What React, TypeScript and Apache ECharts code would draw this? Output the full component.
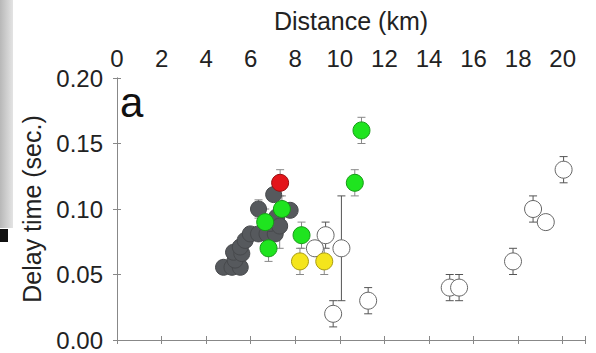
import React, { useEffect, useRef } from "react";
import * as echarts from "echarts";

// [distance km, delay s, error s]
const grayPoints: number[][] = [
  [4.78, 0.0555, 0], [5.16, 0.0555, 0], [5.53, 0.0555, 0],
  [5.3, 0.061, 0], [5.23, 0.067, 0], [5.6, 0.066, 0],
  [5.53, 0.071, 0], [5.75, 0.076, 0],
  [5.98, 0.081, 0], [6.35, 0.081, 0], [6.73, 0.081, 0], [7.1, 0.081, 0],
  [6.88, 0.089, 0], [7.17, 0.094, 0], [7.3, 0.087, 0.017],
  [6.35, 0.1, 0.007], [7.77, 0.099, 0], [7.03, 0.111, 0],
];
const whitePoints: number[][] = [
  [9.36, 0.08, 0.01], [8.88, 0.07, 0], [10.07, 0.07, 0.04],
  [9.7, 0.02, 0.01], [11.27, 0.03, 0.01], [14.93, 0.04, 0.01],
  [15.35, 0.04, 0.01], [17.77, 0.06, 0.01], [18.67, 0.1, 0.01],
  [19.24, 0.09, 0], [20.04, 0.13, 0.01],
];
const yellowPoints: number[][] = [
  [8.21, 0.06, 0.01], [9.3, 0.06, 0.01],
];
const greenPoints: number[][] = [
  [10.97, 0.16, 0.01], [10.67, 0.12, 0.01], [8.28, 0.08, 0.01],
  [7.4, 0.1, 0.01], [6.65, 0.09, 0.01], [6.8, 0.07, 0.01],
];
const redPoints: number[][] = [[7.32, 0.12, 0.01]];

const xTicks = [0, 2, 4, 6, 8, 10, 12, 14, 16, 18, 20];
const yTicks = [0, 0.05, 0.1, 0.15, 0.2];

const FONT = "Liberation Sans";

export default function App() {
  const ref = useRef<HTMLDivElement>(null);
  useEffect(() => {
    document.body.style.margin = "0";
    const chart = echarts.init(ref.current!, null, { renderer: "svg" });
    const errData = [...grayPoints, ...whitePoints, ...yellowPoints, ...greenPoints, ...redPoints].filter(
      (p) => p[2] > 0
    );
    const errColor = (p: number[]) => (whitePoints.includes(p) ? "#555" : "#888");
    const frame = { show: true, lineStyle: { color: "#888", width: 1 } };
    const tick = { show: true, inside: true, length: 4, lineStyle: { color: "#888" } };
    const scatter = (name: string, data: number[][], color: string, border: string, size: number, z: number) => ({
      type: "scatter",
      name,
      xAxisIndex: 0,
      yAxisIndex: 0,
      data: data.map((p) => [p[0], p[1]]),
      symbolSize: size,
      z,
      itemStyle: { color, borderColor: border, borderWidth: 1, opacity: 1 },
    });
    chart.setOption({
      animation: false,
      backgroundColor: "#fff",
      grid: { left: 117, top: 78, right: 11, bottom: 13 },
      xAxis: [
        {
          type: "value",
          position: "top",
          min: 0,
          max: 21,
          interval: 2,
          axisLine: frame,
          axisTick: tick,
          splitLine: { show: false },
          axisLabel: {
            margin: 8,
            fontSize: 24,
            fontFamily: FONT,
            color: "#222",
            formatter: (v: number) => (xTicks.includes(v) ? String(v) : ""),
          },
        },
        {
          type: "value",
          position: "bottom",
          min: 0,
          max: 21,
          interval: 2,
          axisLine: frame,
          axisTick: tick,
          splitLine: { show: false },
          axisLabel: { show: false },
        },
      ],
      yAxis: [
        {
          type: "value",
          position: "left",
          min: 0,
          max: 0.2,
          interval: 0.05,
          axisLine: frame,
          axisTick: tick,
          splitLine: { show: false },
          axisLabel: {
            margin: 14,
            fontSize: 24,
            fontFamily: FONT,
            color: "#222",
            formatter: (v: number) => (yTicks.some((t) => Math.abs(t - v) < 1e-9) ? v.toFixed(2) : ""),
          },
        },
        {
          type: "value",
          position: "right",
          min: 0,
          max: 0.2,
          interval: 0.05,
          axisLine: frame,
          axisTick: tick,
          splitLine: { show: false },
          axisLabel: { show: false },
        },
      ],
      graphic: [
        {
          type: "rect",
          shape: { x: 0, y: 0, width: 13, height: 228 },
          style: {
            fill: new echarts.graphic.LinearGradient(0, 0, 1, 0, [
              { offset: 0, color: "#b8b8b8" },
              { offset: 1, color: "#e4e4e4" },
            ]),
          },
        },
        { type: "rect", shape: { x: 0, y: 229, width: 8, height: 13 }, style: { fill: "#111" } },
        {
          type: "text",
          x: 351,
          y: 21,
          style: { text: "Distance (km)", fontSize: 25, fontFamily: FONT, fill: "#222", align: "center", verticalAlign: "middle" },
        },
        {
          type: "text",
          x: 32,
          y: 209,
          rotation: Math.PI / 2,
          style: { text: "Delay time (sec.)", fontSize: 25, fontFamily: FONT, fill: "#222", align: "center", verticalAlign: "middle" },
        },
        {
          type: "text",
          x: 120,
          y: 102,
          style: { text: "a", fontSize: 42, fontFamily: FONT, fill: "#111", align: "left", verticalAlign: "middle" },
        },
      ],
      series: [
        {
          type: "custom",
          name: "error",
          xAxisIndex: 0,
          yAxisIndex: 0,
          z: 1,
          data: errData,
          renderItem: (params: any, api: any) => {
            const p = errData[params.dataIndex];
            const x = api.value(0);
            const y = api.value(1);
            const e = api.value(2);
            const t = api.coord([x, y + e]);
            const b = api.coord([x, y - e]);
            const hw = 4;
            const stroke = errColor(p);
            const st = { stroke, lineWidth: 1 };
            return {
              type: "group",
              children: [
                { type: "line", shape: { x1: t[0], y1: t[1], x2: b[0], y2: b[1] }, style: st },
                { type: "line", shape: { x1: t[0] - hw, y1: t[1], x2: t[0] + hw, y2: t[1] }, style: st },
                { type: "line", shape: { x1: b[0] - hw, y1: b[1], x2: b[0] + hw, y2: b[1] }, style: st },
              ],
            };
          },
        },
        scatter("gray", grayPoints, "#56595d", "#47494c", 16, 2),
        scatter("white", whitePoints, "#ffffff", "#666", 17, 3),
        scatter("yellow", yellowPoints, "#f4e51c", "#a89a10", 17, 4),
        scatter("green", greenPoints, "#1fe41f", "#169a16", 17, 5),
        scatter("red", redPoints, "#e3151b", "#981010", 17, 6),
      ],
    });
    return () => chart.dispose();
  }, []);
  return <div ref={ref} style={{ width: 596, height: 353 }} />;
}
